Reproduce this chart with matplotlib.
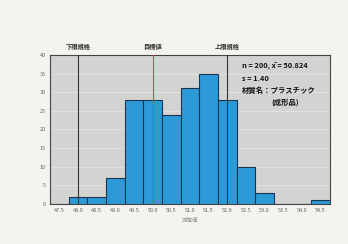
import numpy as np
import matplotlib.pyplot as plt

plt.rcParams['font.family'] = ['Noto Sans CJK JP', 'DejaVu Sans']

# histogram data
centers = [47.5, 48.0, 48.5, 49.0, 49.5, 50.0, 50.5, 51.0, 51.5, 52.0, 52.5, 53.0, 53.5, 54.0, 54.5]
counts = [0, 2, 2, 7, 28, 28, 24, 31, 35, 28, 10, 3, 0, 0, 1]
tick_labels = ['47.5', '48.0', '48.5', '49.0', '49.5', '50.0', '50.5', '51.0',
               '51.5', '52.0', '52.5', '53.0', '53.5', '54.0', '54.5']
spec_names = ['下限規格', '目標値', '上限規格']
spec_values = [48.0, 50.0, 52.0]
spec_colors = ['#333333', '#ec3d55', '#333333']
stats_lines = ['n = 200, x̄ = 50.824', 's = 1.40', '材質名：プラスチック', '(成形品)']

w = 0.5
fig = plt.figure(figsize=(3.48, 2.44), dpi=100, facecolor='#f4f3ef')
ax = fig.add_axes([0.144, 0.164, 0.804, 0.611])
ax.set_facecolor('#d3d3d1')

ax.bar(centers, counts, width=w, color='#2b9ad6', edgecolor='#1d3550', linewidth=0.8, zorder=3)

for name, v, c in zip(spec_names, spec_values, spec_colors):
    ax.axvline(v, color=c, lw=0.8, zorder=4)
    ax.text(v, 41.2, name, ha='center', va='bottom', fontsize=4.5, fontweight='bold', color='#333333')

ax.set_xlim(centers[0] - w / 2, centers[-1] + w / 2)
ax.set_ylim(0, 40)
ax.set_yticks(np.arange(0, 41, 5))
ax.set_xticks(centers)
ax.set_xticklabels(tick_labels)
ax.tick_params(labelsize=4, colors='#666666', length=0, pad=3)
ax.grid(axis='y', color='#e6e6e6', lw=0.5, zorder=0)
for s in ax.spines.values():
    s.set_color('#444444')
    s.set_linewidth(0.8)
ax.set_xlabel('測定値', fontsize=4, color='#888888', labelpad=3)

# stats text on the right
ys = [37.0, 33.8, 30.6, 27.2]
for i, (t, y) in enumerate(zip(stats_lines, ys)):
    x = 53.55 if i == 3 else 52.4
    ha = 'center' if i == 3 else 'left'
    ax.text(x, y, t, fontsize=5.3, fontweight='bold', color='#111111', ha=ha, va='center', zorder=5)

fig.savefig('out.png', dpi=100, facecolor=fig.get_facecolor())
